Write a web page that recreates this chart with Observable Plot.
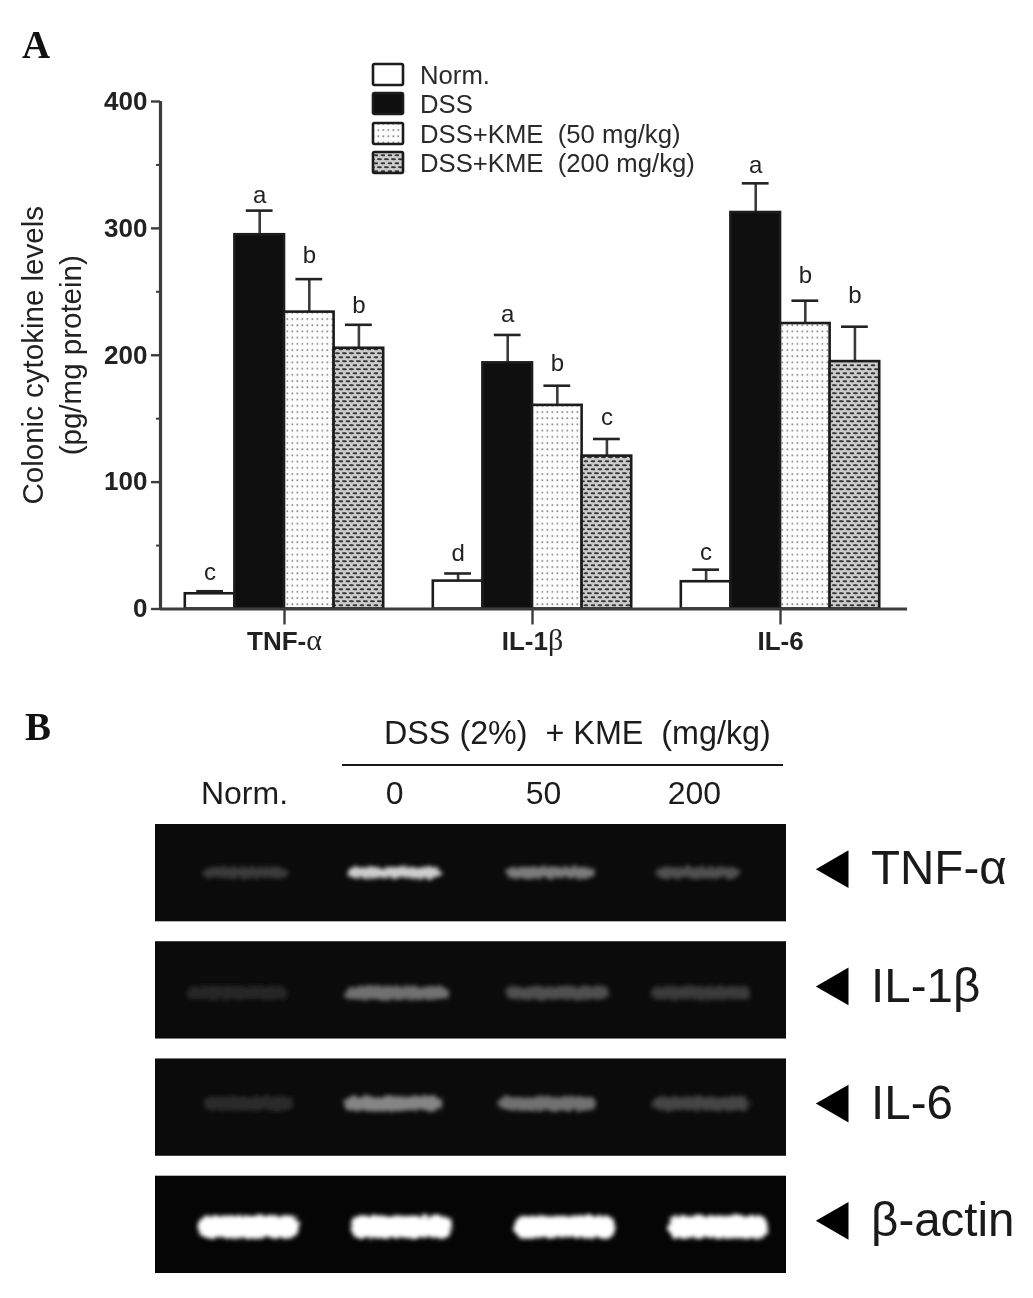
<!DOCTYPE html>
<html><head><meta charset="utf-8">
<script src="https://cdn.jsdelivr.net/npm/d3@7"></script>
<script src="https://cdn.jsdelivr.net/npm/@observablehq/plot@0.6"></script>
<style>
html,body{margin:0;padding:0;background:#fff}
#page{position:relative;width:1033px;height:1298px;overflow:hidden;font-family:"Liberation Sans",Arial,sans-serif;color:#222;filter:blur(.45px)}
#page>svg,#page>figure{position:absolute;margin:0}
.abs{position:absolute;white-space:pre}
.panel{font-family:"Liberation Serif",serif;font-weight:bold;font-size:39px;color:#111;line-height:38px}
</style></head><body>
<svg width="0" height="0" style="position:absolute">
<defs>
<pattern id="dots50" width="5" height="6.2" patternUnits="userSpaceOnUse">
<rect width="5" height="6.2" fill="#fdfdfd"/>
<rect x="1.5" y="2" width="1.7" height="1.7" fill="#8a8a8a"/>
</pattern>
<pattern id="mesh200" width="7" height="8" patternUnits="userSpaceOnUse">
<rect width="7" height="8" fill="#cbcbcb"/>
<ellipse cx="1.5" cy="1.2" rx="2.5" ry="1" fill="#333"/>
<ellipse cx="8.5" cy="1.2" rx="2.5" ry="1" fill="#333"/>
<ellipse cx="5" cy="5.2" rx="2.5" ry="1" fill="#333"/>
</pattern>
<filter id="gelGrain" x="-10%" y="-150%" width="120%" height="400%">
<feTurbulence type="fractalNoise" baseFrequency="0.22" numOctaves="2" seed="4" result="n"/>
<feDisplacementMap in="SourceGraphic" in2="n" scale="7" xChannelSelector="R" yChannelSelector="G"/>
<feGaussianBlur stdDeviation="2.3"/>
</filter>
</defs>
</svg>
<div id="page"></div>
<script>
// Panel A values
const groups = ["TNF-α", "IL-1β", "IL-6"];
const treatments = ["Norm.", "DSS", "DSS+KME  (50 mg/kg)", "DSS+KME  (200 mg/kg)"];
const tnfValues = [12, 295, 234, 205.5];
const il1Values = [22, 194, 160.5, 120.5];
const il6Values = [21.5, 312.5, 225, 195];
const tnfTops = [14, 314, 260, 224];
const il1Tops = [28, 216, 176, 134];
const il6Tops = [31, 335.5, 243, 222.5];
const tnfLetters = ["c", "a", "b", "b"];
const il1Letters = ["d", "a", "b", "c"];
const il6Letters = ["c", "a", "b", "b"];
const tnfLetterLevels = [29, 326, 278.5, 239];
const il1LetterLevels = [44, 232, 193.5, 151];
const il6LetterLevels = [44.5, 350, 263, 247];
const yTicks = [0, 100, 200, 300, 400];
const yMinor = [50, 150, 250, 350];
const fills = ["#fff", "#0f0f0f", "url(#dots50)", "url(#mesh200)"];

// Panel B values: gel band extents (% of gel width) and brightness
const genes = ["TNF-α", "IL-1β", "IL-6", "β-actin"];
const lanes = ["Norm.", "0", "50", "200"];
const laneCentres = [14.1, 37.9, 61.5, 85.4];
const tnfStart = [7.6, 30.4, 55.6, 79.4];
const tnfEnd = [21.1, 45.3, 69.7, 92.7];
const tnfBright = [0.2, 0.8, 0.46, 0.28];
const il1Start = [5, 30, 55.6, 78.6];
const il1End = [21, 46.6, 72, 94.3];
const il1Bright = [0.12, 0.42, 0.28, 0.2];
const il6Start = [7.6, 30, 54.4, 78.9];
const il6End = [22, 45.6, 70, 94.3];
const il6Bright = [0.13, 0.5, 0.42, 0.24];
const actinStart = [6.8, 31, 57, 81.3];
const actinEnd = [22.8, 47, 73, 97.1];
const actinBright = [1, 1, 1, 1];

const valuesBy = [tnfValues, il1Values, il6Values];
const topsBy = [tnfTops, il1Tops, il6Tops];
const lettersBy = [tnfLetters, il1Letters, il6Letters];
const levelsBy = [tnfLetterLevels, il1LetterLevels, il6LetterLevels];
const bars = groups.flatMap((g, i) => treatments.map((t, j) => ({
  group: g, treatment: t, slot: 5 * i + 0.5 + j,
  value: valuesBy[i][j], top: topsBy[i][j], letter: lettersBy[i][j], level: levelsBy[i][j], fill: fills[j]
})));
const line = "#3c3c3c";

const chartA = Plot.plot({
  width: 1033, height: 660,
  marginLeft: 160, marginRight: 126, marginTop: 101, marginBottom: 51.5,
  style: {background: "transparent", fontFamily: "'Liberation Sans',Arial,sans-serif", color: "#222"},
  x: {domain: [0, 15.06], axis: null},
  y: {domain: [0, 400], axis: null},
  marks: [
    Plot.axisY({ticks: yMinor, tickSize: 4, tickFormat: () => "", stroke: line, strokeWidth: 2, label: null}),
    Plot.axisY({ticks: yTicks, tickSize: 9, tickPadding: 4, fontSize: 26, fontWeight: "bold", stroke: line, strokeWidth: 2.4, label: null}),
    Plot.axisX({ticks: [2.5, 7.5, 12.5], tickSize: 16, tickPadding: 7, fontSize: 26, fontWeight: "bold", stroke: line, strokeWidth: 2.4, label: null,
      tickFormat: v => groups[(v - 2.5) / 5]}),
    Plot.ruleX(bars, {x: d => d.slot + 0.5, y1: "value", y2: "top", stroke: line, strokeWidth: 2.6}),
    Plot.ruleY(bars, {y: "top", x1: d => d.slot + 0.23, x2: d => d.slot + 0.77, stroke: "#222", strokeWidth: 2.6}),
    Plot.rectY(bars, {x1: "slot", x2: d => d.slot + 1, y1: 0, y2: "value", fill: "fill", stroke: "#1c1c1c", strokeWidth: 2.6}),
    Plot.ruleX([0], {y1: 0, y2: 400, stroke: line, strokeWidth: 3.2}),
    Plot.ruleY([0], {stroke: line, strokeWidth: 3.2}),
    Plot.text(bars, {x: d => d.slot + 0.5, y: "level", text: "letter", fontSize: 24, fill: "#222"}),
    Plot.text(["Colonic cytokine levels\n(pg/mg protein)"], {frameAnchor: "left", textAnchor: "middle", text: d => d, rotate: -90, dx: -111, fontSize: 29.5, lineHeight: 1.29, fill: "#222"})
  ]
});
chartA.style.left = "0px"; chartA.style.top = "0px";

// Serif Greek letters in the bold x-axis labels, as in the reference
d3.select(chartA).selectAll("text").filter(function() { return this.textContent === "TNF-α" || this.textContent === "IL-1β"; })
  .each(function() {
    const host = this.querySelector("tspan") || this;
    const s = host.textContent;
    host.textContent = s.slice(0, -1);
    const g = document.createElementNS("http://www.w3.org/2000/svg", "tspan");
    g.setAttribute("font-family", "Liberation Serif");
    g.setAttribute("font-weight", "normal");
    g.setAttribute("font-size", 30);
    g.textContent = s.slice(-1);
    host.append(g);
  });

const gelRows = [
  {gene: genes[0], start: tnfStart, end: tnfEnd, bright: tnfBright, insetTop: 43, insetBottom: 43},
  {gene: genes[1], start: il1Start, end: il1End, bright: il1Bright, insetTop: 45, insetBottom: 39},
  {gene: genes[2], start: il6Start, end: il6End, bright: il6Bright, insetTop: 38, insetBottom: 45},
  {gene: genes[3], start: actinStart, end: actinEnd, bright: actinBright, insetTop: 40, insetBottom: 35}
];
const bandsOf = r => lanes.map((lane, i) => ({gene: r.gene, lane, x1: r.start[i], x2: r.end[i], b: r.bright[i]}));

const chartB = Plot.plot({
  width: 1033, height: 608,
  marginLeft: 155, marginRight: 247, marginTop: 134, marginBottom: 25,
  style: {background: "transparent", fontFamily: "'Liberation Sans',Arial,sans-serif", color: "#1c1c1c"},
  x: {domain: [0, 100], axis: null},
  y: {domain: genes, axis: null, paddingInner: 0.17, paddingOuter: 0, round: false},
  color: {type: "linear", domain: [0, 1], range: ["#0a0a0a", "#ffffff"]},
  marks: [
    Plot.barX(genes, {y: d => d, x1: 0, x2: 100, fill: d => d === "β-actin" ? "#050505" : "#0b0b0b"}),
    ...gelRows.map(r => Plot.barX(bandsOf(r), {
      x1: "x1", x2: "x2", y: "gene", fill: "b",
      insetTop: r.insetTop, insetBottom: r.insetBottom, rx: 9,
      imageFilter: "url(#gelGrain)"
    })),
    Plot.axisX({anchor: "top", ticks: laneCentres, tickFormat: v => lanes[laneCentres.indexOf(v)], tickSize: 0, tickPadding: 21, fontSize: 32, label: null}),
    Plot.dot(genes, {x: () => 108.1, y: d => d, dy: -4, symbol: "triangle", r: 14, rotate: -90, fill: "#000", stroke: "none"}),
    Plot.text(genes, {x: () => 113.4, y: d => d, dy: -4, text: d => d, textAnchor: "start", fontSize: 47.5, fill: "#1a1a1a"})
  ]
});
chartB.style.left = "0px"; chartB.style.top = "690px";

const page = document.getElementById("page");
page.append(chartA, chartB);

function abs(html, css, cls) {
  const d = document.createElement("div");
  d.className = "abs " + (cls || "");
  d.style.cssText = css;
  d.textContent = html;
  page.append(d);
  return d;
}
abs("A", "left:22px;top:26px", "panel");
abs("B", "left:25px;top:708px", "panel");

// Legend
const legendTops = [63, 92, 122, 151];
treatments.forEach((t, j) => {
  const s = document.createElementNS("http://www.w3.org/2000/svg", "svg");
  s.setAttribute("width", 34); s.setAttribute("height", 26);
  s.style.cssText = `position:absolute;left:371px;top:${legendTops[j] - 1}px`;
  s.innerHTML = `<rect x="2" y="2" width="30" height="21" rx="1.5" fill="${fills[j]}" stroke="#1c1c1c" stroke-width="2.6"/>`;
  page.append(s);
  abs(t, `left:420px;top:${legendTops[j] - 2}px;font-size:25.7px;line-height:28px;color:#2a2a2a`);
});

// Panel B header
abs("", "left:342px;top:764px;width:441px;height:2px;background:#1a1a1a");
abs("DSS (2%)  + KME  (mg/kg)", "left:384px;top:712px;font-size:32.3px;line-height:42px;color:#1c1c1c");
</script>
</body></html>
